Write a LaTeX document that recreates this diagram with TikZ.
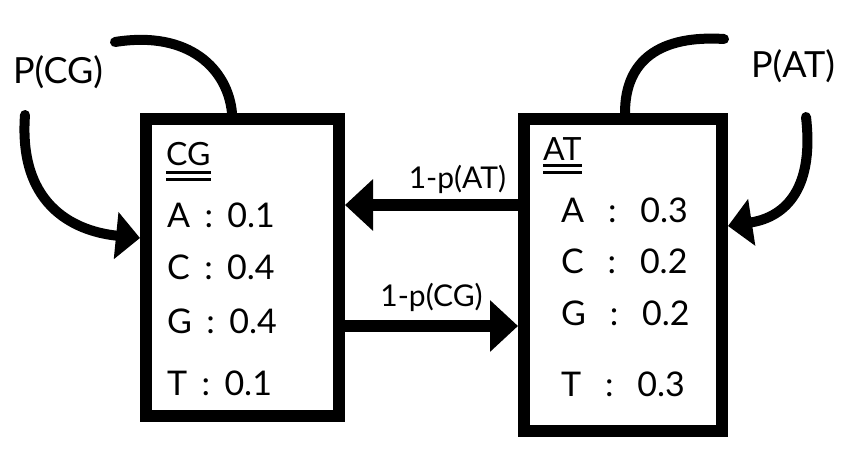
\documentclass[tikz,border=0pt]{standalone}
\usepackage{fontspec}
\setmainfont{Lato}
\usetikzlibrary{arrows.meta,positioning}
\begin{document}
\begin{tikzpicture}[x=1pt, y=-1pt,
    box/.style = {draw, line width=12pt, inner sep=0pt},
    edge/.style = {line width=12pt, -{Triangle[length=28pt,width=50pt]}},
    loopline/.style = {line width=10pt, line cap=round},
    looparrow/.style = {loopline, -{Triangle[length=24pt,width=46pt]}},
    entry/.style = {font=\fontsize{34}{34}\selectfont, anchor=base west, inner sep=0pt},
    title/.style = {font=\fontsize{32}{32}\selectfont, anchor=base west, inner sep=0pt},
    uline/.style = {line width=3pt},
    prob/.style = {font=\fontsize{36}{36}\selectfont},
    edgelabel/.style = {font=\fontsize{30}{30}\selectfont}]
    \useasboundingbox (0,0) rectangle (868,450);
    \node [box, minimum width=193pt, minimum height=297pt] (cg) at (242.5,267.5) {};
    \node [box, minimum width=198pt, minimum height=312pt] (at) at (623,275) {};
    \node [title] (cgt) at (166,165) {CG};
    \draw [uline] ([yshift=-7pt]cgt.base west) -- ([yshift=-7pt]cgt.base east);
    \draw [uline] ([yshift=-14pt]cgt.base west) -- ([yshift=-14pt]cgt.base east);
    \node [entry] (cga) at (167,227) {A \,:\, 0.1};
    \node [entry] (cgc) at (167,279) {C \,:\, 0.4};
    \node [entry] (cgg) at (167,333) {G \,:\, 0.4};
    \node [entry] (cgtt) at (167,395) {T \,:\, 0.1};
    \node [title] (att) at (543,160) {AT};
    \draw [uline] ([yshift=-5pt]att.base west) -- ([yshift=-5pt]att.base east);
    \draw [uline] ([yshift=-12pt]att.base west) -- ([yshift=-12pt]att.base east);
    \node [entry] (ata) at (561,222) {A \;\,:\;\, 0.3};
    \node [entry] (atc) at (561,273) {C \;\,:\;\, 0.2};
    \node [entry] (atg) at (561,325) {G \;\,:\;\, 0.2};
    \node [entry] (attt) at (561,396) {T \;\,:\;\, 0.3};
    \draw [edge] (at.west |- 0,205) -- (cg.east |- 0,205)
      node [edgelabel, pos=.35, above=2pt] (toCG) {1-p(AT)};
    \draw [edge] (cg.east |- 0,326) -- (at.west |- 0,326)
      node [edgelabel, pos=.5, above=5pt] (toAT) {1-p(CG)};
    \coordinate (cgout) at (115,42);
    \coordinate (cgin) at (25,115);
    \draw [loopline] (cg.north -| 232,0) .. controls (228,70) and (190,30) .. (cgout);
    \draw [looparrow] (cgin) .. controls (18,210) and (80,232) .. (cg.west |- 0,238);
    \node [prob] (pcg) at (58,72) {P(CG)};
    \coordinate (atout) at (724,39);
    \coordinate (atin) at (806,117);
    \draw [loopline] (at.north -| 625,0) .. controls (625,60) and (660,35) .. (atout);
    \draw [looparrow] (atin) .. controls (815,195) and (780,218) .. (at.east |- 0,226);
    \node [prob] (pat) at (793,66) {P(AT)};
\end{tikzpicture}
\end{document}
